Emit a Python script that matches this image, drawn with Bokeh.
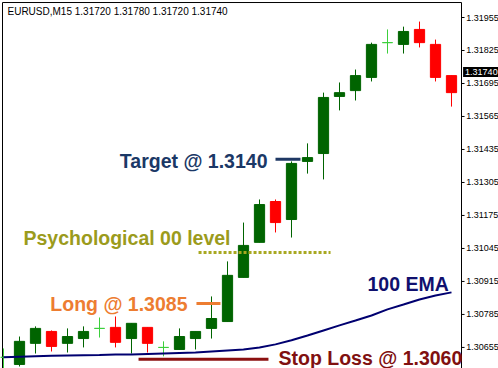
from bokeh.plotting import figure
from bokeh.models import Range1d, Label, ColumnDataSource
from bokeh.core.properties import value
from bokeh.embed import file_html
from bokeh.resources import INLINE

# ---- data (EURUSD M15) ----
opens  = [1.30616, 1.30588, 1.30671, 1.30718, 1.30671, 1.30690, 1.30730, 1.30734, 1.30690, 1.30734,
          1.30655, 1.30647, 1.30690, 1.30730, 1.30757, 1.30931, 1.31069, 1.31230, 1.31159, 1.31388,
          1.31419, 1.31644, 1.31667, 1.31719, 1.31856, 1.31849, 1.31908, 1.31849, 1.31726]
highs  = [1.30651, 1.30698, 1.30738, 1.30722, 1.30730, 1.30738, 1.30773, 1.30777, 1.30750, 1.30734,
          1.30679, 1.30730, 1.30718, 1.30856, 1.30994, 1.31147, 1.31238, 1.31238, 1.31388, 1.31459,
          1.31659, 1.31699, 1.31750, 1.31856, 1.31908, 1.31919, 1.31939, 1.31868, 1.31726]
lows   = [1.30557, 1.30580, 1.30631, 1.30639, 1.30635, 1.30655, 1.30694, 1.30655, 1.30631, 1.30635,
          1.30620, 1.30647, 1.30647, 1.30690, 1.30757, 1.30931, 1.31069, 1.31108, 1.31088, 1.31340,
          1.31317, 1.31589, 1.31628, 1.31703, 1.31813, 1.31813, 1.31837, 1.31703, 1.31604]
closes = [1.30616, 1.30679, 1.30730, 1.30659, 1.30698, 1.30718, 1.30730, 1.30675, 1.30750, 1.30671,
          1.30655, 1.30698, 1.30718, 1.30769, 1.30939, 1.31057, 1.31218, 1.31147, 1.31380, 1.31403,
          1.31640, 1.31659, 1.31726, 1.31849, 1.31856, 1.31900, 1.31856, 1.31719, 1.31659]
ema100 = [1.30616, 1.30618, 1.30620, 1.30622, 1.30623, 1.30624, 1.30625, 1.30627, 1.30627, 1.30629,
          1.30631, 1.30633, 1.30635, 1.30639, 1.30643, 1.30647, 1.30655, 1.30667, 1.30683, 1.30702,
          1.30722, 1.30742, 1.30761, 1.30781, 1.30805, 1.30824, 1.30844, 1.30860, 1.30872]
price_ticks = [1.30655, 1.30785, 1.30915, 1.31045, 1.31175, 1.31305, 1.31435, 1.31565, 1.31695, 1.31825, 1.31955]
header = "EURUSD,M15  1.31720 1.31780 1.31720 1.31740"
last_price = 1.31740
target_level = 1.31396
psych_level = 1.31029
long_level = 1.30828
stop_level = 1.30608

BULL = "#006400"
BEAR = "#ff0000"
DOJI = "#3ccf3c"

idx = list(range(len(opens)))
body_col, wick_col, tops, bots = [], [], [], []
for o, c in zip(opens, closes):
    if c > o:
        body_col.append(BULL); wick_col.append(BULL)
    elif c < o:
        body_col.append(BEAR); wick_col.append(BEAR)
    else:
        body_col.append(DOJI); wick_col.append(DOJI)
    tops.append(max(o, c)); bots.append(min(o, c))

src = ColumnDataSource(dict(x=idx, o=opens, h=highs, l=lows, c=closes,
                            top=tops, bot=bots, bc=body_col, wc=wick_col))

# chart area (frame fills the page; the price scale is drawn inside it at the right)
X0, X1 = -0.1875, 30.9375
Y0, Y1 = 1.30572, 1.32022
AXIS_X = 28.625          # price-scale line
LEFT_X = -0.0625         # left border
TOP_Y = 1.32014          # top border

p = figure(width=498, height=368, output_backend="svg", toolbar_location=None,
           x_range=Range1d(X0, X1), y_range=Range1d(Y0, Y1),
           x_axis_location=None, y_axis_location=None,
           min_border_left=0, min_border_top=0, min_border_bottom=0, min_border_right=0)
p.xgrid.visible = False
p.ygrid.visible = False
p.outline_line_color = None
p.background_fill_color = "white"
p.border_fill_color = "white"

# borders and price scale
p.segment(x0=[LEFT_X, LEFT_X, AXIS_X], y0=[Y0, TOP_Y, Y0],
          x1=[LEFT_X, AXIS_X, AXIS_X], y1=[TOP_Y, TOP_Y, TOP_Y],
          line_color="black", line_width=1)
p.segment(x0=[AXIS_X] * len(price_ticks), y0=price_ticks,
          x1=[AXIS_X + 0.19] * len(price_ticks), y1=price_ticks,
          line_color="black", line_width=1)
p.text(x=[AXIS_X + 0.3] * len(price_ticks), y=price_ticks,
       text=["%.5f" % t for t in price_ticks], text_font=value("Liberation Sans"),
       text_font_size="9px", text_color="black", text_align="left", text_baseline="middle")

# candles
p.segment(x0="x", y0="l", x1="x", y1="h", line_color="wc", line_width=1, source=src)
p.vbar(x="x", width=0.64, top="top", bottom="bot", fill_color="bc", line_color="bc",
       line_width=1, source=src)

# EMA
p.line(idx, ema100, line_color="#000070", line_width=2)

font = value("Liberation Sans")
# annotation lines
p.segment(x0=[17.0], y0=[target_level], x1=[18.56], y1=[target_level], line_color="#1f3864", line_width=3)
p.segment(x0=[12.19], y0=[psych_level], x1=[20.44], y1=[psych_level], line_color="#a8a820",
          line_width=3, line_dash="3 2")
p.segment(x0=[12.06], y0=[long_level], x1=[13.56], y1=[long_level], line_color="#ed7d31", line_width=3)
p.segment(x0=[8.44], y0=[stop_level], x1=[16.56], y1=[stop_level], line_color="#8b1010", line_width=3)

def note(x, y, txt, color, align):
    p.text(x=[x], y=[y], text=[txt], text_font=font, text_font_style="bold",
           text_font_size="19.5px", text_color=color, text_align=align, text_baseline="middle")

note(16.5, 1.31388, "Target @ 1.3140", "#1b3866", "right")
note(14.19, 1.31088, "Psychological 00 level", "#9b9b1c", "right")
note(11.5, 1.30828, "Long @ 1.3085", "#ed7d31", "right")
note(17.19, 1.30612, "Stop Loss @ 1.3060", "#801010", "left")
note(22.75, 1.30903, "100 EMA", "#10106e", "left")

p.add_layout(Label(x=0.25, y=1.31979, text=header, text_font="Liberation Sans",
                   text_font_size="10px", text_color="black", text_baseline="middle"))
p.add_layout(Label(x=AXIS_X + 0.1, y=last_price, text="%.5f" % last_price, text_font="Liberation Sans",
                   text_font_size="9px", text_color="white", text_baseline="middle",
                   background_fill_color="black", padding=2))

open("out.html", "w").write(file_html(p, INLINE))
